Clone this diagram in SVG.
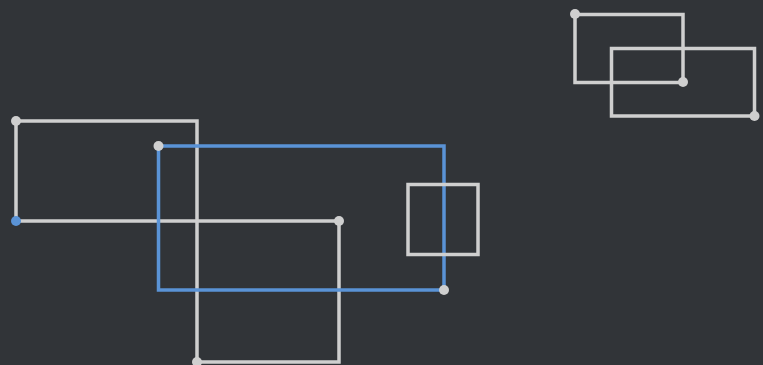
<svg xmlns="http://www.w3.org/2000/svg" width="763" height="365" viewBox="0 0 763 365">
<style>
.g{fill:none;stroke:#cfcfcf;stroke-width:3.5}
.b{fill:none;stroke:#5a93d6;stroke-width:3.5}
.dg{fill:#cfcfcf}
.db{fill:#5a93d6}
</style>
<rect width="763" height="365" fill="#313438"/>
<g id="shape-left">
<path class="g" d="M16 121 H197 V362 H339 V221 H16 Z"/>
</g>
<g id="shape-blue">
<rect class="b" x="158.5" y="146" width="285.5" height="144"/>
</g>
<g id="shape-square">
<rect class="g" x="408" y="184.5" width="70" height="70"/>
</g>
<g id="shape-top-right">
<rect class="g" x="575" y="14.5" width="108" height="68"/>
<rect class="g" x="611.5" y="48.5" width="143" height="67.5"/>
</g>
<g id="dots">
<circle class="dg" cx="16" cy="121" r="5"/>
<circle class="db" cx="16" cy="221" r="5"/>
<circle class="dg" cx="339" cy="221" r="5"/>
<circle class="dg" cx="197" cy="362" r="5"/>
<circle class="dg" cx="158.5" cy="146" r="5"/>
<circle class="dg" cx="444" cy="290" r="5"/>
<circle class="dg" cx="575" cy="14" r="5"/>
<circle class="dg" cx="683" cy="82" r="5"/>
<circle class="dg" cx="754.5" cy="116" r="5"/>
</g>
</svg>
